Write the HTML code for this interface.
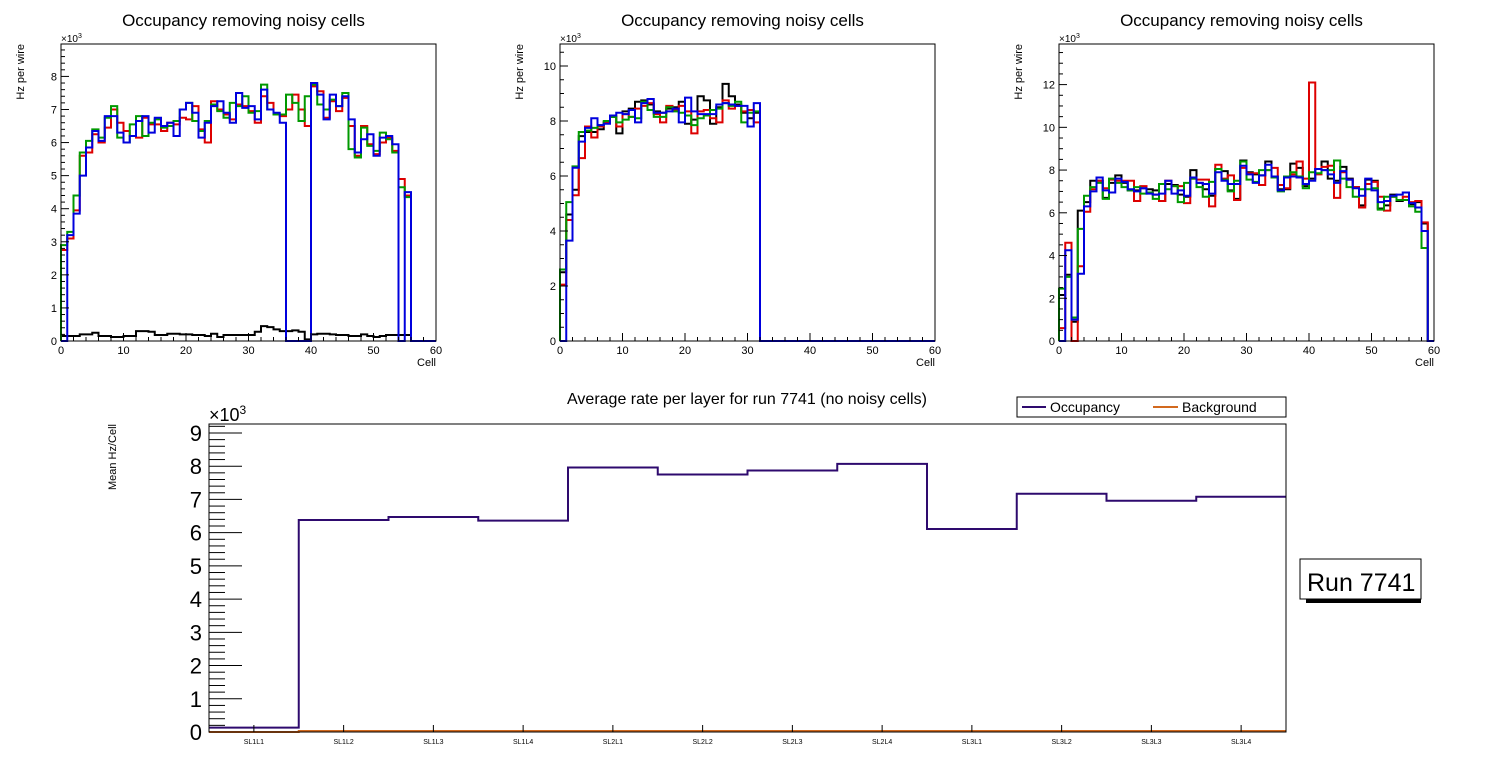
<!DOCTYPE html>
<html><head><meta charset="utf-8"><style>
body{margin:0;background:#fff;}
svg{display:block;font-family:"Liberation Sans",sans-serif;}
</style></head><body>
<svg id="c" width="1496" height="772" viewBox="0 0 1496 772"></svg>
<script>
// ---------- data ----------
const p1Black=[0.15,0.15,0.15,0.2,0.2,0.25,0.15,0.15,0.12,0.12,0.15,0.15,0.3,0.3,0.28,0.18,0.18,0.22,0.22,0.2,0.2,0.18,0.18,0.15,0.22,0.12,0.18,0.18,0.18,0.18,0.18,0.28,0.45,0.42,0.35,0.3,0.3,0.32,0.28,0.05,0.2,0.22,0.22,0.2,0.18,0.18,0.15,0.15,0.2,0.15,0.12,0.15,0.18,0.18,0.18,0.18,0,0,0,0];
const p1Red=[2.75,3.1,3.95,5.6,5.7,6.25,6.0,6.45,7.0,6.6,6.35,6.2,6.15,6.75,6.55,6.55,6.35,6.6,6.55,6.75,6.7,7.1,6.4,6.0,7.25,7.0,6.85,6.7,7.15,7.1,6.95,6.6,7.4,7.2,6.85,6.8,7.0,7.45,7.0,6.5,7.7,7.55,6.75,7.25,6.95,7.35,6.5,5.6,6.5,5.95,5.65,6.0,6.15,5.75,4.9,4.4,0,0,0,0];
const p1Green=[2.9,3.3,4.4,5.7,6.05,6.4,6.15,6.75,7.1,6.15,6.0,6.55,6.8,6.2,6.6,6.7,6.45,6.5,6.65,7.0,7.2,6.65,6.35,6.65,7.15,6.95,6.75,7.2,7.1,7.4,6.9,6.95,7.75,7.0,6.85,6.85,7.45,7.2,6.65,7.4,7.75,7.15,7.0,7.3,7.1,7.5,5.8,5.55,6.45,5.9,5.75,6.3,6.1,5.7,4.65,4.35,0,0,0,0];
const p1Blue=[0,3.2,3.85,5.0,5.85,6.35,6.05,6.8,6.8,6.3,6.0,6.2,6.65,6.8,6.3,6.75,6.5,6.6,6.2,7.0,7.2,6.9,6.15,6.6,7.1,7.25,6.9,6.6,7.5,7.05,7.1,6.7,7.6,7.0,6.9,6.6,0,0,0,0,7.8,7.45,6.7,7.45,7.1,7.4,6.7,5.7,6.1,6.25,5.6,6.15,6.2,5.95,0,4.5,0,0,0,0];
const z28=new Array(28).fill(0);
const p2Black=[2.5,4.6,5.5,7.45,7.6,7.6,7.7,7.95,8.15,7.55,8.35,8.45,8.7,8.75,8.6,8.35,8.3,8.45,8.5,8.7,7.9,8.05,8.9,8.75,7.9,8.5,9.35,8.9,8.6,8.3,8.1,8.3].concat(z28);
const p2Red=[2.05,4.4,5.3,6.65,7.8,7.4,7.8,7.95,8.2,7.8,8.25,8.15,8.45,8.55,8.65,8.25,7.95,8.55,8.4,8.55,8.35,7.55,8.35,8.4,8.1,7.95,8.75,8.45,8.55,8.35,8.4,7.95].concat(z28);
const p2Green=[2.6,5.05,6.35,7.6,7.65,7.75,7.85,8.0,8.15,7.95,8.05,8.15,8.1,8.7,8.4,8.15,8.15,8.5,8.35,8.3,8.2,7.85,8.1,8.2,8.4,8.45,8.65,8.55,8.7,7.95,8.3,8.35].concat(z28);
const p2Blue=[0,3.65,6.3,7.25,7.75,8.1,7.85,7.9,8.2,8.3,8.25,8.4,7.95,8.65,8.8,8.3,8.3,8.35,8.45,7.95,8.85,8.35,8.25,8.25,8.25,8.6,8.65,8.6,8.55,8.55,7.8,8.65].concat(z28);
const p3Black=[2.15,3.1,0.9,6.1,6.5,7.5,7.5,6.7,7.4,7.75,7.4,7.05,7.05,7.15,7.1,7.05,6.55,7.35,7.3,6.85,6.75,8.0,7.4,7.1,6.8,8.05,7.95,7.05,6.65,8.45,7.9,7.8,7.75,8.4,7.7,7.1,7.1,8.3,8.1,7.25,7.6,8.05,8.4,7.6,7.5,8.15,7.6,7.2,6.35,7.55,7.5,6.2,6.35,6.85,6.55,6.6,6.4,6.5,5.5,0];
const p3Red=[0.6,4.6,0,3.5,6.05,7.1,7.5,7.15,7.55,7.5,7.5,7.5,6.55,7.25,6.95,6.85,6.55,7.5,7.25,7.25,6.45,7.6,7.55,7.55,6.3,8.25,7.6,7.75,6.6,8.1,7.85,7.85,7.3,8.0,8.1,7.3,7.15,7.8,8.4,7.6,12.1,7.8,8.15,8.2,6.7,7.9,7.55,7.2,6.25,7.35,7.45,6.75,6.1,6.75,6.6,6.75,6.5,6.55,5.55,0];
const p3Green=[2.45,3.0,1.1,5.25,6.8,7.2,7.4,6.65,7.6,7.4,7.2,7.05,7.2,6.9,6.95,6.65,7.35,7.1,7.25,6.5,7.4,7.6,7.2,6.75,7.45,8.05,7.55,7.0,7.5,8.4,7.55,7.45,8.0,8.0,7.65,7.0,7.7,7.9,7.7,7.15,7.9,7.85,8.0,8.0,8.45,7.6,7.2,6.75,7.1,7.1,7.15,6.15,6.75,6.75,6.6,6.6,6.3,6.05,4.35,0];
const p3Blue=[0,4.25,1.0,3.15,6.3,7.0,7.65,7.05,6.95,7.6,7.45,7.1,7.0,7.15,6.9,6.85,6.9,7.5,6.9,7.05,6.8,7.65,7.4,7.35,6.9,7.9,7.5,7.35,7.35,8.2,7.8,7.4,7.75,8.25,7.7,7.05,7.65,7.7,7.65,7.35,7.5,8.05,8.0,7.8,7.4,7.95,7.55,7.15,6.8,7.6,7.05,6.5,6.55,6.8,6.85,6.95,6.45,6.25,5.15,0];
const layers=["SL1L1","SL1L2","SL1L3","SL1L4","SL2L1","SL2L2","SL2L3","SL2L4","SL3L1","SL3L2","SL3L3","SL3L4"];
const occupancy=[0.13,6.38,6.47,6.36,7.96,7.75,7.87,8.07,6.11,7.17,6.96,7.08];
const background=[0.0,0.03,0.03,0.03,0.03,0.03,0.03,0.03,0.03,0.03,0.03,0.03];
const xTicksTop=[0,10,20,30,40,50,60];

// ---------- helpers ----------
const S=document.getElementById('c');
const NS='http://www.w3.org/2000/svg';
function mk(tag,attrs,parent,text){const e=document.createElementNS(NS,tag);for(const k in attrs)e.setAttribute(k,attrs[k]);if(text!==undefined)e.textContent=text;(parent||S).appendChild(e);return e;}

function panel(cfg){
  const g=mk('g',{});
  
  
  const {x0,x1,y0,y1,ymax}=cfg;
  const sx=v=>x0+(v/60)*(x1-x0);
  const sy=v=>y1-(v/ymax)*(y1-y0);
  const t=mk('text',{x:(x0+x1)/2-5,y:26,'font-size':17,'text-anchor':'middle'},g,'Occupancy removing noisy cells');
  
  
  const cols=['#000','#d00','#090','#00d'];
  cfg.series.forEach((arr,si)=>{
    let d='M'+sx(0)+','+sy(0);
    arr.forEach((v,i)=>{d+=' L'+sx(i)+','+sy(v)+' L'+sx(i+1)+','+sy(v);});
    d+=' L'+sx(arr.length)+','+sy(0);
    const p=mk('path',{d:d,fill:'none',stroke:cols[si],'stroke-width':2,'stroke-linejoin':'miter'},g);
    
    
  });
  const fr=mk('rect',{x:x0,y:y0,width:x1-x0,height:y1-y0,fill:'none',stroke:'#000','stroke-width':1},g);
  
  
  for(let v=0;v<=60;v+=2){const maj=v%10===0;mk('line',{x1:sx(v),x2:sx(v),y1:y1,y2:y1-(maj?8:4),stroke:'#000','stroke-width':1},g);}
  xTicksTop.forEach(v=>{const l=mk('text',{x:sx(v),y:y1+13,'font-size':11,'text-anchor':'middle'},g,String(v));
    
    });
  const xl=mk('text',{x:x1,y:y1+25,'font-size':11,'text-anchor':'end'},g,'Cell');
  
  
  for(let k=0;k*cfg.minor<=ymax+1e-9;k++){const v=k*cfg.minor;const maj=Math.abs(v/cfg.major-Math.round(v/cfg.major))<1e-6;
    mk('line',{x1:x0,x2:x0+(maj?8:4),y1:sy(v),y2:sy(v),stroke:'#000','stroke-width':1},g);
    if(maj){const l=mk('text',{x:x0-4,y:sy(v)+4,'font-size':11,'text-anchor':'end'},g,String(Math.round(v)));
      
      }}
  const e=mk('text',{x:x0,y:y0-2,'font-size':10},g,'×10');
  mk('tspan',{dy:-4,'font-size':7},e,'3');
  
  
  const yl=mk('text',{x:0,y:0,'font-size':11,'text-anchor':'end',transform:'translate('+(x0-37)+','+(y0)+') rotate(-90)'},g,'Hz per wire');
  
  
}
panel({name:'panel-sl1',x0:61,x1:436,y0:44,y1:341,ymax:8.98,major:1,minor:0.2,series:[p1Black,p1Red,p1Green,p1Blue]});
panel({name:'panel-sl2',x0:560,x1:935,y0:44,y1:341,ymax:10.8,major:2,minor:0.5,series:[p2Black,p2Red,p2Green,p2Blue]});
panel({name:'panel-sl3',x0:1059,x1:1434,y0:44,y1:341,ymax:13.9,major:2,minor:0.5,series:[p3Black,p3Red,p3Green,p3Blue]});

// ---------- bottom chart ----------
(function(){
  const g=mk('g',{});
  
  
  const x0=209,x1=1286,y0=424,y1=732,ymax=9.27;
  const bw=(x1-x0)/layers.length;
  const sx=i=>x0+i*bw;
  const sy=v=>y1-(v/ymax)*(y1-y0);
  const t=mk('text',{x:747,y:404,'font-size':16,'text-anchor':'middle'},g,'Average rate per layer for run 7741 (no noisy cells)');
  
  
  function step(arr,col,name){
    let d='M'+sx(0)+','+sy(arr[0]);
    arr.forEach((v,i)=>{d+=' L'+sx(i)+','+sy(v)+' L'+sx(i+1)+','+sy(v);});
    const p=mk('path',{d:d,fill:'none',stroke:col,'stroke-width':2},g);
    
    
  }
  step(background,'#d2691e','background-line');
  step(occupancy,'#2e0a6e','occupancy-line');
  const fr=mk('rect',{x:x0,y:y0,width:x1-x0,height:y1-y0,fill:'none',stroke:'#000','stroke-width':1},g);
  
  
  for(let k=0;k*0.2<=ymax;k++){const v=k*0.2;const maj=k%5===0;
    mk('line',{x1:x0,x2:x0+(maj?33:16),y1:sy(v),y2:sy(v),stroke:'#000','stroke-width':1},g);
    if(maj){const l=mk('text',{x:x0-7,y:sy(v)+8,'font-size':22,'text-anchor':'end'},g,String(k/5));
      
      }}
  layers.forEach((n,i)=>{const cx=sx(i)+bw/2;
    mk('line',{x1:cx,x2:cx,y1:y1,y2:y1-7,stroke:'#000','stroke-width':1},g);
    const l=mk('text',{x:cx,y:y1+12,'font-size':7,'text-anchor':'middle'},g,n);
    
    });
  const e=mk('text',{x:x0,y:y0-3,'font-size':18},g,'×10');
  mk('tspan',{dy:-7,'font-size':12},e,'3');
  
  
  const yl=mk('text',{x:0,y:0,'font-size':11,'text-anchor':'end',transform:'translate(116,424) rotate(-90)'},g,'Mean Hz/Cell');
  
  
  const lg=mk('g',{},g);
  
  
  mk('rect',{x:1017,y:397,width:269,height:20,fill:'#fff',stroke:'#000','stroke-width':1},lg);
  mk('line',{x1:1022,x2:1046,y1:407,y2:407,stroke:'#2e0a6e','stroke-width':2},lg);
  const a=mk('text',{x:1050,y:412,'font-size':14},lg,'Occupancy');
  
  
  mk('line',{x1:1153,x2:1178,y1:407,y2:407,stroke:'#d2691e','stroke-width':2},lg);
  const b=mk('text',{x:1182,y:412,'font-size':14},lg,'Background');
  
  
  const rb=mk('g',{});
  
  
  mk('rect',{x:1306,y:562,width:115,height:41,fill:'#000'},rb);
  mk('rect',{x:1300,y:559,width:121,height:40,fill:'#fff',stroke:'#000','stroke-width':1},rb);
  mk('text',{x:1307,y:591,'font-size':25},rb,'Run 7741');
})();
</script>
</body></html>
